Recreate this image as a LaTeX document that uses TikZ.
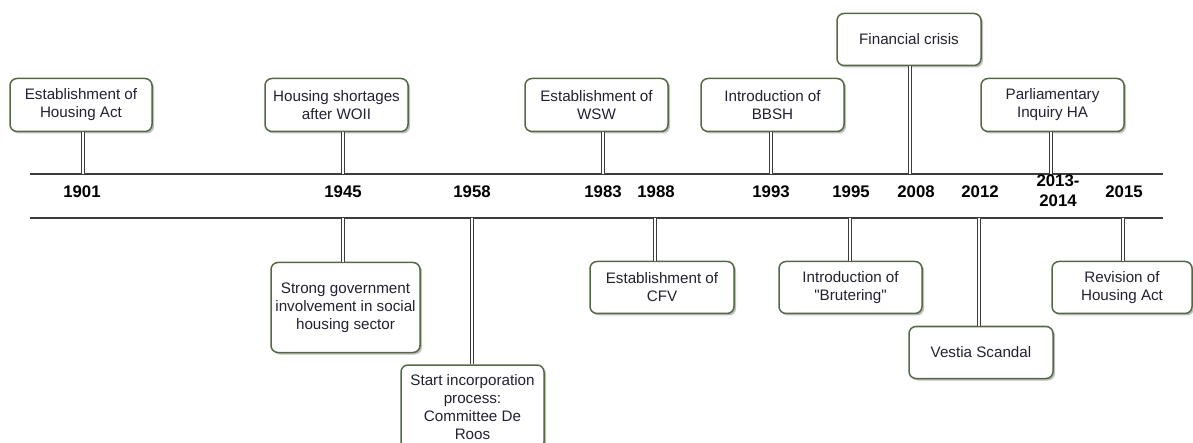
\documentclass[tikz,border=0pt]{standalone}
\usepackage{fontspec}
\setmainfont{Liberation Sans}[Ligatures=TeXOff]
\usetikzlibrary{shadows}
\definecolor{boxline}{RGB}{84,104,68}
\definecolor{txt}{RGB}{34,34,50}
\definecolor{axis}{RGB}{60,60,60}
\begin{document}
\begin{tikzpicture}[x=1pt,y=-1pt,
  event/.style={draw=boxline, line width=1.5pt, rounded corners=7pt, fill=white,
    text=txt, align=center, font=\fontsize{15.2}{18}\selectfont, inner sep=1pt,
    drop shadow={shadow xshift=2pt, shadow yshift=-2pt, fill=black, opacity=0.25}},
  year/.style={font=\fontsize{16.8}{20}\selectfont\bfseries, text=black, align=center, inner sep=0pt},
  axisline/.style={draw=axis, line width=1.3pt},
  link/.style={draw=axis, double=white, double distance=2.6pt, line width=0.9pt}]
\useasboundingbox (0,0) rectangle (1193,443);
\clip (0,0) rectangle (1193,443);
% axis lines
\coordinate (La) at (30,174);
\coordinate (Ra) at (1163,174);
\coordinate (Lb) at (30,218);
\coordinate (Rb) at (1163,218);
\draw[axisline] (La) -- (Ra);
\draw[axisline] (Lb) -- (Rb);
% years
\node[year] (y1901) at (82,192) {1901};
\node[year] (y1945) at (343,192) {1945};
\node[year] (y1958) at (472,192) {1958};
\node[year] (y1983) at (603,192) {1983};
\node[year] (y1988) at (656,192) {1988};
\node[year] (y1993) at (771,192) {1993};
\node[year] (y1995) at (851,192) {1995};
\node[year] (y2008) at (916,192) {2008};
\node[year] (y2012) at (980,192) {2012};
\node[year] (y2013) at (1058,191) {2013-\\2014};
\node[year] (y2015) at (1124,192) {2015};
% top events
\node[event, minimum width=142pt, minimum height=53pt] (e1901) at (81,105) {Establishment of\\Housing Act};
\node[event, minimum width=143pt, minimum height=53pt] (e1945) at (336.5,105) {Housing shortages\\after WOII};
\node[event, minimum width=143pt, minimum height=53pt] (e1983) at (596.5,105) {Establishment of\\WSW};
\node[event, minimum width=143pt, minimum height=53pt] (e1993) at (772.5,105) {Introduction of\\BBSH};
\node[event, minimum width=144pt, minimum height=52pt] (e2008) at (909,39.5) {Financial crisis};
\node[event, minimum width=143pt, minimum height=53pt] (e2013) at (1052.5,105) {Parliamentary\\Inquiry HA};
% bottom events
\node[event, minimum width=149pt, minimum height=90pt] (e1945b) at (345.5,307.5) {Strong government\\involvement in social\\housing sector};
\node[event, minimum width=143pt, minimum height=84pt] (e1958) at (472.5,407) {Start incorporation\\process:\\Committee De\\Roos};
\node[event, minimum width=144pt, minimum height=52pt] (e1988) at (662,287.5) {Establishment of\\CFV};
\node[event, minimum width=143pt, minimum height=52pt] (e1995) at (850.5,287.5) {Introduction of\\"Brutering"};
\node[event, minimum width=144pt, minimum height=52pt] (e2012) at (981,352.5) {Vestia Scandal};
\node[event, minimum width=140pt, minimum height=52pt] (e2015) at (1122,287.5) {Revision of\\Housing Act};
% connectors
\coordinate (c1901) at (83,174);
\coordinate (c1945) at (343,174);
\coordinate (c1983) at (603,174);
\coordinate (c1993) at (771,174);
\coordinate (c2008) at (910,174);
\coordinate (c2013) at (1051,174);
\coordinate (d1945) at (343,218);
\coordinate (d1958) at (472,218);
\coordinate (d1988) at (655,218);
\coordinate (d1995) at (850,218);
\coordinate (d2012) at (979,218);
\coordinate (d2015) at (1123,218);
\draw[link] (c1901) -- (c1901 |- e1901.south);
\draw[link] (c1945) -- (c1945 |- e1945.south);
\draw[link] (c1983) -- (c1983 |- e1983.south);
\draw[link] (c1993) -- (c1993 |- e1993.south);
\draw[link] (c2008) -- (c2008 |- e2008.south);
\draw[link] (c2013) -- (c2013 |- e2013.south);
\draw[link] (d1945) -- (d1945 |- e1945b.north);
\draw[link] (d1958) -- (d1958 |- e1958.north);
\draw[link] (d1988) -- (d1988 |- e1988.north);
\draw[link] (d1995) -- (d1995 |- e1995.north);
\draw[link] (d2012) -- (d2012 |- e2012.north);
\draw[link] (d2015) -- (d2015 |- e2015.north);
\end{tikzpicture}
\end{document}
